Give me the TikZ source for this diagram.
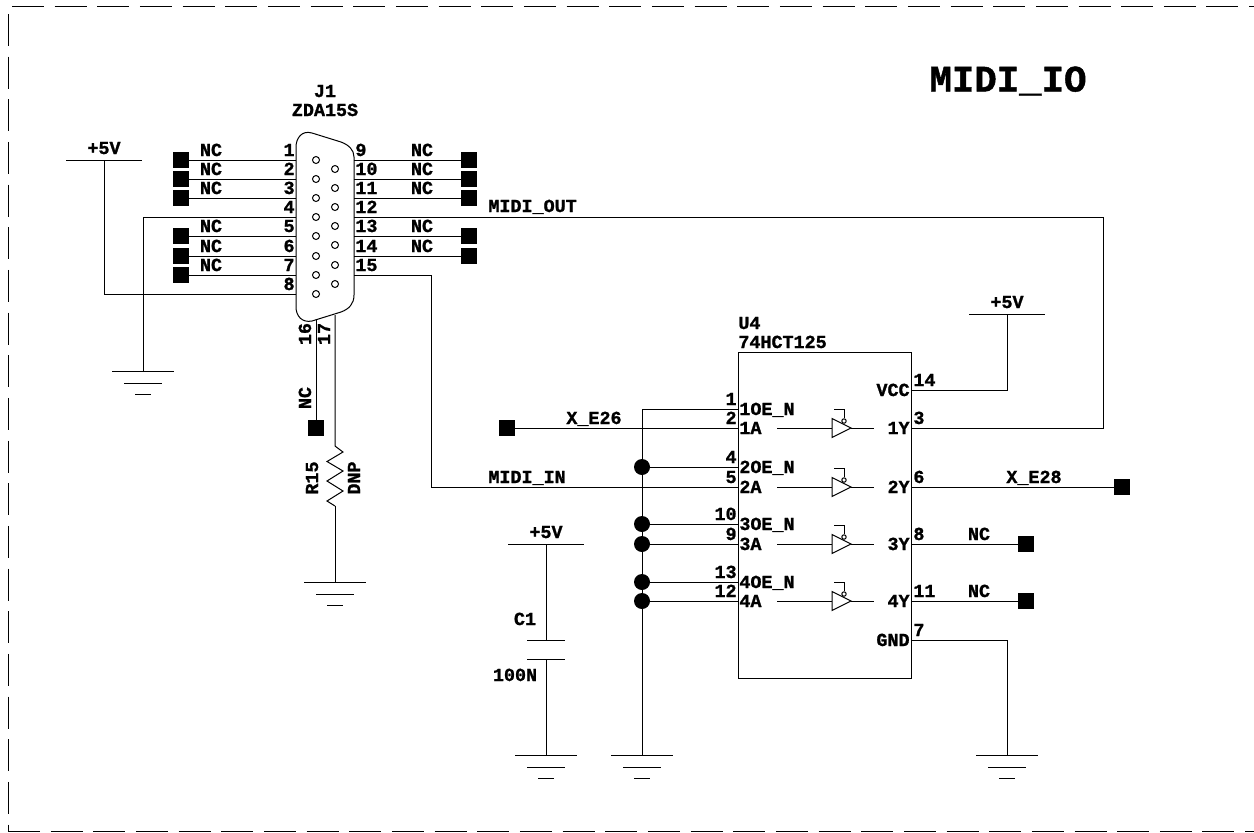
\documentclass[tikz,border=0pt]{standalone}
\usepackage{fontspec}
\setmainfont{Liberation Mono}[BoldFeatures={FakeBold=1.2}]
\tikzset{
    wire/.style={line width=0.5pt},
    framewire/.style={wire,dash pattern=on 16pt off 5.33pt},
    lbl/.style={font=\fontsize{9.2}{11}\selectfont\bfseries,inner sep=0pt,anchor=base},
    lblw/.style={lbl,anchor=base west},
    lble/.style={lbl,anchor=base east},
    lblr/.style={lbl,rotate=90},
    pad/.style={fill=black,inner sep=0pt,minimum size=8pt},
    dot/.style={circle,fill=black,inner sep=0pt,minimum size=8pt},
    hole/.style={circle,draw,line width=0.5pt,inner sep=0pt,minimum size=3.5pt},
    icbox/.style={draw,line width=0.5pt,inner sep=0pt,minimum width=86.5pt,minimum height=163pt},
    gnd/.pic={
        \draw[wire] (-31,0) -- (31,0);
        \draw[wire] (-19,12) -- (19,12);
        \draw[wire] (-8,23) -- (8,23);
    },
    vcc/.pic={
        \draw[wire] (-38,0) -- (38,0);
        \node[lbl] (-label) at (0,-6) {+5V};
    },
}
\begin{document}
\begin{tikzpicture}[x=0.5pt,y=-0.5pt]
        \useasboundingbox (0,0) rectangle (1254,832);
        %% sheet frame
        \draw[framewire] (12,6) -- (1254,6);
        \draw[framewire] (8,14) -- (8,831);
        \draw[framewire] (8,831) -- (1254,831);
        \node[lbl,font=\fontsize{18.7}{22}\selectfont\bfseries] (title) at (1008,91.5) {MIDI\_IO};
        %% connector J1
        \draw[wire] (296,147) .. controls (296,138) and (302,130) .. (312,133) -- (341,142)
            .. controls (349,145) and (354,150) .. (354,157) -- (354,295)
            .. controls (354,304) and (349,309) .. (341,312) -- (312,321)
            .. controls (302,323) and (296,316) .. (296,307) -- cycle;
        \node[lbl] (j1ref) at (325,97) {J1};
        \node[lbl] (j1val) at (325,116) {ZDA15S};
        \foreach \n/\y in {1/160,2/179,3/198,4/217,5/236,6/256,7/275,8/294}{
            \coordinate (p\n) at (296,\y);
            \node[hole] (h\n) at (316,\y) {};
            \node[lble] (n\n) at (295,\y-4) {\n};
        }
        \foreach \n/\y in {9/160,10/179,11/198,12/217,13/236,14/256,15/275}{
            \coordinate (p\n) at (354,\y);
            \node[hole] (h\n) at (335,\y+9) {};
            \node[lblw] (n\n) at (355,\y-4) {\n};
        }
        %% unused pins
        \foreach \n/\y in {1/160,2/179,3/198,5/236,6/256,7/275}{
            \node[pad] (pad\n) at (181,\y) {};
            \draw[wire] (pad\n) -- (p\n);
            \node[lbl] (nc\n) at (211,\y-4) {NC};
        }
        \foreach \n/\y in {9/160,10/179,11/198,13/236,14/256}{
            \node[pad] (pad\n) at (469,\y) {};
            \draw[wire] (p\n) -- (pad\n);
        }
        \foreach \n/\y in {9/160,10/179,11/198,13/236,14/256}
            \node[lbl] (nc\n) at (422,\y-4) {NC};
        %% pin 16 and 17
        \coordinate (p16) at (316,320);
        \coordinate (p17) at (335,315);
        \node[lblr] (n16) at (311,334) {16};
        \node[lblr] (n17) at (330,334) {17};
        \node[pad] (pad16) at (316,428) {};
        \draw[wire] (p16) -- (pad16);
        \node[lblr] (nc16) at (311,398) {NC};
        %% R15
        \coordinate (r15top) at (335,446);
        \coordinate (r15bot) at (335,506);
        \draw[wire] (p17) -- (r15top) -- ++(8,6) -- ++(-16,9.5) -- ++(16,9.5) -- ++(-16,10)
            -- ++(16,10) -- ++(-16,10) -- (r15bot);
        \node[lblr] (r15ref) at (318,478) {R15};
        \node[lblr] (r15val) at (360,478) {DNP};
        \coordinate (gndr) at (335,582);
        \draw[wire] (r15bot) -- (gndr);
        \pic at (gndr) {gnd};
        %% power and ground of J1
        \coordinate (vccj) at (104,160);
        \pic (vccja) at (vccj) {vcc};
        \draw[wire] (p8) -| (vccj);
        \coordinate (gndj) at (143,371);
        \pic at (gndj) {gnd};
        \draw[wire] (p4) -| (gndj);
        %% buffer U4
        \node[icbox] (u4) at (824.5,515) {};
        \node[lblw] (u4ref) at (738,329) {U4};
        \node[lblw] (u4val) at (738,348) {74HCT125};
        \foreach \n/\t/\y in {1/1OE\_N/409,2/1A/428,4/2OE\_N/467,5/2A/487,10/3OE\_N/524,9/3A/544,13/4OE\_N/582,12/4A/601}{
            \coordinate (u\n) at (738,\y);
            \node[lble] (un\n) at (737,\y-4) {\n};
            \node[lblw] (ut\n) at (739,\y+6) {\t};
        }
        \foreach \n/\t/\y in {14/VCC/390,3/1Y/428,6/2Y/487,8/3Y/544,11/4Y/601,7/GND/640}{
            \coordinate (u\n) at (911,\y);
            \node[lblw] (un\n) at (913,\y-4) {\n};
            \node[lble] (ut\n) at (910,\y+6) {\t};
        }
        %% gates
        \foreach \y in {428,487,544,601}{
            \draw[wire] (777,\y) -- (832,\y) (851,\y) -- (874,\y);
            \draw[wire] (832,\y-9.5) -- (851,\y) -- (832,\y+9.5) -- cycle;
            \node[hole,minimum size=2.2pt] (en\y) at (844,\y-7) {};
            \draw[wire] (834,\y-19) -| (en\y);
        }
        %% enable bus
        \coordinate (gndb) at (642,755);
        \coordinate (bustop) at (642,409);
        \draw[wire] (u1) -- (bustop) -- (gndb);
        \pic at (gndb) {gnd};
        \foreach \n/\y in {4/467,10/524,9/544,13/582,12/601}{
            \node[dot] (d\n) at (642,\y) {};
            \draw[wire] (d\n) -- (u\n);
        }
        %% signals
        \node[pad] (padx) at (507,428) {};
        \draw[wire] (padx) -- (u2);
        \node[lbl] (x26) at (594,424) {X\_E26};
        \coordinate (c15) at (431,487);
        \draw[wire] (p15) -| (c15) -- (u5);
        \node[lblw] (min) at (488,483) {MIDI\_IN};
        \coordinate (c12) at (1103,428);
        \draw[wire] (p12) -| (c12) -- (u3);
        \node[lblw] (mout) at (488,212) {MIDI\_OUT};
        \node[pad] (pady) at (1122,487) {};
        \draw[wire] (u6) -- (pady);
        \node[lbl] (x28) at (1034,483) {X\_E28};
        \foreach \n/\y in {8/544,11/601}{
            \node[pad] (pad\n) at (1026,\y) {};
            \draw[wire] (u\n) -- (pad\n);
            \node[lbl] (ncu\n) at (979,\y-4) {NC};
        }
        %% power of U4
        \coordinate (vccu) at (1007,314);
        \pic (vccua) at (vccu) {vcc};
        \draw[wire] (u14) -| (vccu);
        \coordinate (gndu) at (1007,755);
        \pic at (gndu) {gnd};
        \draw[wire] (u7) -| (gndu);
        %% C1
        \coordinate (vccc) at (546,544);
        \pic (vccca) at (vccc) {vcc};
        \coordinate (c1a) at (546,640);
        \coordinate (c1b) at (546,659);
        \coordinate (gndc) at (546,755);
        \draw[wire] (vccc) -- (c1a) (c1b) -- (gndc);
        \draw[wire] (527,640) -- (565,640) (527,659) -- (565,659);
        \pic at (gndc) {gnd};
        \node[lbl] (c1ref) at (525,625) {C1};
        \node[lbl] (c1val) at (515,681) {100N};
    \end{tikzpicture}
\end{document}
